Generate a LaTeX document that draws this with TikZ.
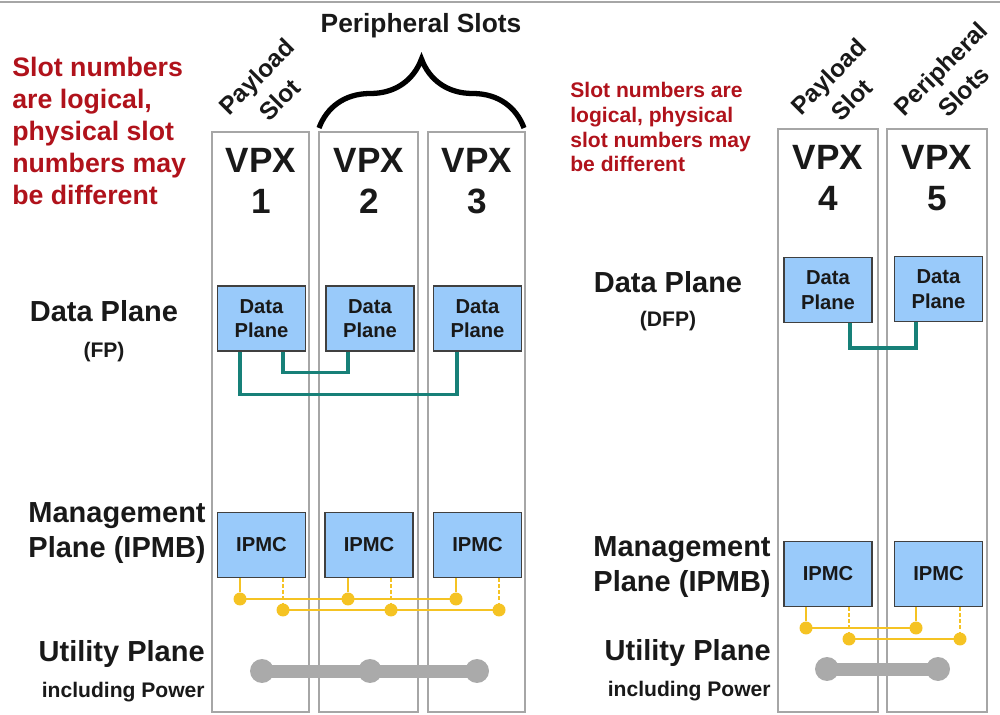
\documentclass[tikz,border=0pt]{standalone}
\usepackage{fontspec}
\setmainfont{Liberation Sans}
\usetikzlibrary{decorations.pathreplacing}

\definecolor{slotgray}{RGB}{166,166,166}
\definecolor{boxblue}{RGB}{153,202,250}
\definecolor{fpteal}{RGB}{23,128,120}
\definecolor{ipmbyellow}{RGB}{245,195,35}
\definecolor{utilgray}{RGB}{170,170,170}
\definecolor{notered}{RGB}{176,18,27}

\begin{document}
\begin{tikzpicture}[x=0.02cm,y=-0.02cm,
    slot/.style={draw=slotgray,line width=1.6pt},
    planebox/.style={draw=black!75,line width=0.6pt,fill=boxblue,text=black!90,
      minimum width=1.76cm,minimum height=1.3cm,inner sep=0pt,align=center,
      font=\bfseries\fontsize{11.5}{14}\selectfont},
    vpx/.style={align=center,text=black!90,font=\bfseries\fontsize{20}{23.5}\selectfont},
    slotname/.style={align=center,rotate=45,text=black!90,font=\bfseries\fontsize{14}{18.5}\selectfont},
    planename/.style={align=right,inner sep=0pt,text=black!90,font=\bfseries\fontsize{16.5}{20}\selectfont},
    planesub/.style={inner sep=0pt,text=black!90,font=\bfseries\fontsize{12}{14}\selectfont},
    fplink/.style={draw=fpteal,line width=2.2pt},
    ipmb/.style={draw=ipmbyellow,line width=1.6pt},
    ydot/.style={circle,fill=ipmbyellow,inner sep=0pt,minimum size=0.26cm},
    udot/.style={circle,fill=utilgray,inner sep=0pt,minimum size=0.48cm},
    util/.style={draw=utilgray,line width=0.26cm}]

   \useasboundingbox (0,0) rectangle (1000,715);
   \draw[black!35,line width=0.6pt] (0,2) -- (1000,2);

   % slots
   \draw[slot] (212,132) rectangle (309,712);
   \draw[slot] (319,132) rectangle (418,712);
   \draw[slot] (428,132) rectangle (525,712);
   \draw[slot] (778,129) rectangle (878,712);
   \draw[slot] (887,129) rectangle (987,712);

   \node[vpx] (vpx1) at (261,181) {VPX\\1};
   \node[vpx] (vpx2) at (369,181) {VPX\\2};
   \node[vpx] (vpx3) at (477,181) {VPX\\3};
   \node[vpx] (vpx4) at (828,178) {VPX\\4};
   \node[vpx] (vpx5) at (937,178) {VPX\\5};

   % headings above the slots
   \node[slotname] (payleft) at (268,88) {Payload\\Slot};
   \node[text=black!90,font=\bfseries\fontsize{15}{18}\selectfont] (perleft) at (421,26) {Peripheral Slots};
   \draw[line width=3pt,decorate,decoration={brace,amplitude=1.38cm}] (319,128) -- (524,128);
   \node[slotname] (payright) at (840,88) {Payload\\Slot};
   \node[slotname] (perright) at (952,80) {Peripheral\\Slots};

   \node[align=left,anchor=west,inner sep=0pt,text=notered,font=\bfseries\fontsize{15.2}{18.1}\selectfont] (noteleft) at (12,131)
     {Slot numbers\\are logical,\\physical slot\\numbers may\\be different};
   \node[align=left,anchor=west,inner sep=0pt,text=notered,font=\bfseries\fontsize{12}{14.2}\selectfont] (noteright) at (570,127)
     {Slot numbers are\\logical, physical\\slot numbers may\\be different};

   % data plane
   \node[planename] (fpname) at (104,311) {Data Plane};
   \node[planesub] (fpsub) at (104,352) {(FP)};
   \node[planename] (dfpname) at (668,282) {Data Plane};
   \node[planesub] (dfpsub) at (668,321) {(DFP)};

   \node[planebox] (dp1) at (261.5,318.5) {Data\\Plane};
   \node[planebox] (dp2) at (370,318.5) {Data\\Plane};
   \node[planebox] (dp3) at (477.5,318.5) {Data\\Plane};
   \node[planebox] (dp4) at (828,290) {Data\\Plane};
   \node[planebox] (dp5) at (938.5,289) {Data\\Plane};

   \draw[fplink] (dp1.south -| 240,0) -- ++(0,43) -| (dp3.south -| 457,0);
   \draw[fplink] (dp1.south -| 283,0) -- ++(0,21) -| (dp2.south -| 348,0);
   \draw[fplink] (dp4.south -| 850,0) -- ++(0,25) -| (dp5.south -| 916,0);

   % management plane
   \node[planename,anchor=east] (ipmbname) at (206,533) {Management\\Plane (IPMB)};
   \node[planename,anchor=east] (ipmbnamer) at (771,567) {Management\\Plane (IPMB)};

   \node[planebox] (ip1) at (261.5,545) {IPMC};
   \node[planebox] (ip2) at (369,545) {IPMC};
   \node[planebox] (ip3) at (477.5,545) {IPMC};
   \node[planebox] (ip4) at (828,574) {IPMC};
   \node[planebox] (ip5) at (938.5,574) {IPMC};

   \node[ydot] (ya1) at (240,599) {};
   \node[ydot] (ya2) at (348,599) {};
   \node[ydot] (ya3) at (456,599) {};
   \node[ydot] (yb1) at (283,610) {};
   \node[ydot] (yb2) at (391,610) {};
   \node[ydot] (yb3) at (499,610) {};
   \node[ydot] (ya4) at (806,628) {};
   \node[ydot] (ya5) at (916,628) {};
   \node[ydot] (yb4) at (849,639) {};
   \node[ydot] (yb5) at (960,639) {};

   \draw[ipmb] (ip1.south -| ya1) -- (ya1);
   \draw[ipmb] (ip2.south -| ya2) -- (ya2);
   \draw[ipmb] (ip3.south -| ya3) -- (ya3);
   \draw[ipmb] (ip4.south -| ya4) -- (ya4);
   \draw[ipmb] (ip5.south -| ya5) -- (ya5);
   \draw[ipmb,line width=0.8pt,dash pattern=on 2pt off 1.5pt] (ip1.south -| yb1) -- (yb1);
   \draw[ipmb,line width=0.8pt,dash pattern=on 2pt off 1.5pt] (ip2.south -| yb2) -- (yb2);
   \draw[ipmb,line width=0.8pt,dash pattern=on 2pt off 1.5pt] (ip3.south -| yb3) -- (yb3);
   \draw[ipmb,line width=0.8pt,dash pattern=on 2pt off 1.5pt] (ip4.south -| yb4) -- (yb4);
   \draw[ipmb,line width=0.8pt,dash pattern=on 2pt off 1.5pt] (ip5.south -| yb5) -- (yb5);
   \draw[ipmb] (ya1.center) -- (ya3.center);
   \draw[ipmb] (yb1.center) -- (yb3.center);
   \draw[ipmb] (ya4.center) -- (ya5.center);
   \draw[ipmb] (yb4.center) -- (yb5.center);

   % utility plane
   \node[planename,anchor=base east] (utilname) at (205,661) {Utility Plane};
   \node[planesub,anchor=base east] (utilsub) at (205,697) {including Power};
   \node[planename,anchor=base east] (utilnamer) at (771,660) {Utility Plane};
   \node[planesub,anchor=base east] (utilsubr) at (771,696) {including Power};

   \node[udot] (u1) at (262,671) {};
   \node[udot] (u2) at (370,671) {};
   \node[udot] (u3) at (477,671) {};
   \node[udot] (u4) at (827,669) {};
   \node[udot] (u5) at (938,669) {};
   \draw[util] (u1.center) -- (u3.center);
   \draw[util] (u4.center) -- (u5.center);

\end{tikzpicture}
\end{document}
